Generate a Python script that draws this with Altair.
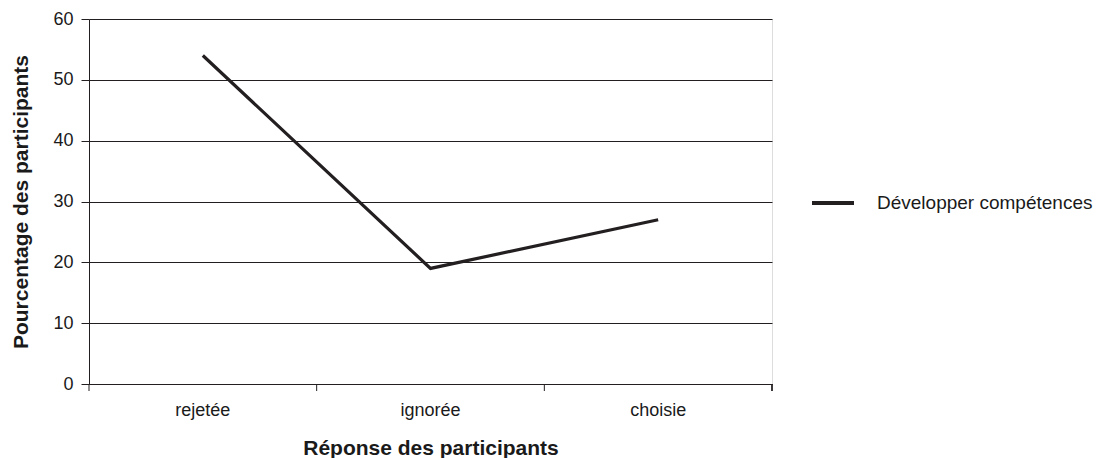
import altair as alt
import pandas as pd

categories = ["rejetée", "ignorée", "choisie"]
values = [54, 19, 27]
series_name = "Développer compétences"

df = pd.DataFrame({"reponse": categories, "pct": values, "serie": [series_name] * 3})

W, H = 683, 365
FONT = "Liberation Sans"
INK = "#231f20"
TXT = "#1a1a1a"

xscale = alt.Scale(domain=categories, paddingInner=0, paddingOuter=0)

line = alt.Chart(df).mark_line(strokeWidth=3.2, color=INK).encode(
    x=alt.X("reponse:N", sort=categories, scale=xscale,
            axis=alt.Axis(title="Réponse des participants", labelAngle=0,
                          ticks=False, domainColor=INK, labelPadding=17,
                          labelFontSize=18, labelColor=TXT, titleFontSize=21,
                          titleFontWeight="bold", titlePadding=18, titleColor=TXT,
                          labelFont=FONT, titleFont=FONT, grid=False)),
    y=alt.Y("pct:Q", scale=alt.Scale(domain=[0, 60]),
            axis=alt.Axis(title="Pourcentage des participants",
                          values=[0, 10, 20, 30, 40, 50, 60],
                          tickSize=8, tickColor=INK, domainColor=INK, gridColor=INK,
                          gridOpacity=1, labelPadding=8, labelFontSize=18,
                          labelColor=TXT, titleFontSize=21, titleFontWeight="bold",
                          titlePadding=21, titleColor=TXT, labelFont=FONT,
                          titleFont=FONT)),
    stroke=alt.Stroke("serie:N", scale=alt.Scale(range=[INK]),
                      legend=alt.Legend(title=None, orient="none", legendX=721, legendY=161,
                                        symbolType="stroke", symbolSize=1764,
                                        symbolStrokeWidth=4, labelFontSize=19,
                                        labelLimit=400, labelFont=FONT, labelColor=TXT,
                                        labelOffset=21)),
)

band_ticks = alt.Chart(df).mark_rule(color=INK, strokeWidth=1).encode(
    x=alt.X("reponse:N", sort=categories, scale=xscale, bandPosition=0),
    y=alt.value(H), y2=alt.value(H + 7)
)

end_tick = alt.Chart(df).mark_rule(color=INK, strokeWidth=1).encode(
    x=alt.value(W), y=alt.value(H), y2=alt.value(H + 7)
)

chart = alt.layer(line, band_ticks, end_tick).properties(
    width=W, height=H,
    autosize=alt.AutoSizeParams(type="none"),
    padding={"left": 81, "top": 11, "right": 325, "bottom": 74},
).configure_view(stroke=None).configure(background="white")

chart.save("out.html", embed_options={"renderer": "svg", "actions": False})
